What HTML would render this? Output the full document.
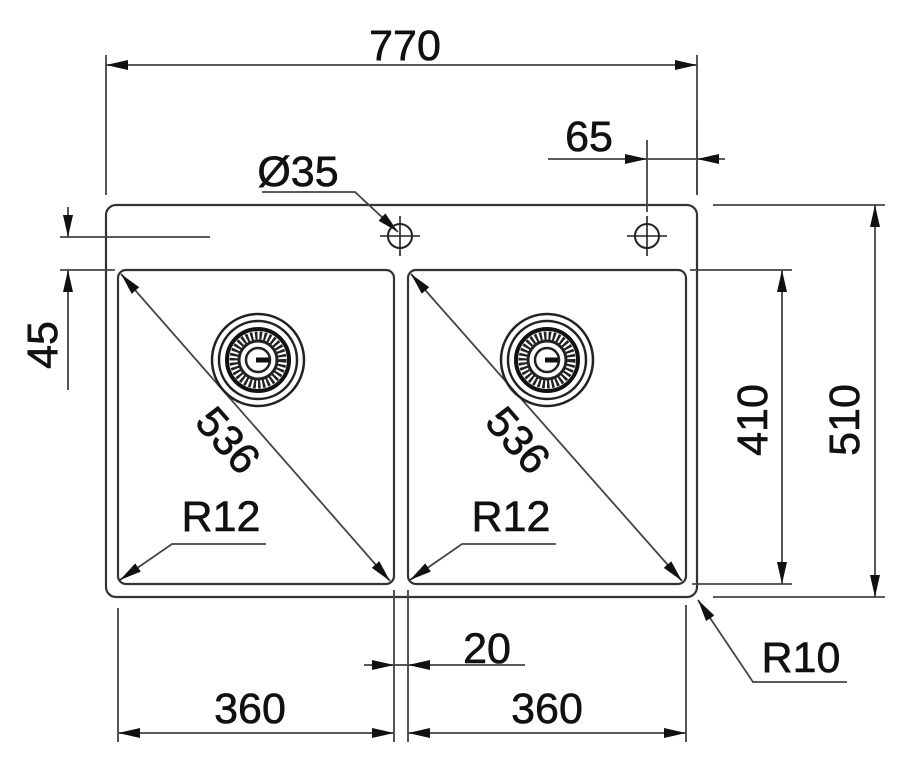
<!DOCTYPE html>
<html><head><style>
html,body{margin:0;padding:0;background:#fff;}
svg{display:block;}
text{font-family:"Liberation Sans",Arial,sans-serif;fill:#111;}
</style></head><body>
<svg width="910" height="769" viewBox="0 0 910 769" xmlns="http://www.w3.org/2000/svg">
<defs>
<marker id="a" viewBox="0 0 22 10" refX="22" refY="5" markerWidth="22" markerHeight="10" markerUnits="userSpaceOnUse" orient="auto-start-reverse"><path d="M0,0 L22,5 L0,10 Z" fill="#111"/></marker>
<g id="drain">
<circle r="46" fill="none" stroke="#222" stroke-width="2.5"/>
<circle r="39" fill="none" stroke="#222" stroke-width="2.5"/>
<circle r="31" fill="none" stroke="#111" stroke-width="4"/>
<circle r="24" fill="none" stroke="#222" stroke-width="9" stroke-dasharray="2.4 2"/>
<circle r="19" fill="none" stroke="#222" stroke-width="3"/>
<circle r="12" fill="#fff" stroke="#222" stroke-width="2.5"/>
<rect x="-2" y="-2.5" width="13" height="5" fill="#111"/>
</g>
<g id="tap">
<circle r="12" fill="none" stroke="#222" stroke-width="2"/>
<line x1="-20" y1="0" x2="20" y2="0" stroke="#222" stroke-width="1.6"/>
<line x1="0" y1="-20" x2="0" y2="20" stroke="#222" stroke-width="1.6"/>
</g>
</defs>
<g fill="none" stroke="#333" stroke-width="2.2">
<rect x="106" y="205" width="591" height="392" rx="10"/>
<rect x="118" y="270" width="276" height="314" rx="8"/>
<rect x="408" y="270" width="278" height="314" rx="8"/>
</g>
<g stroke="#444" stroke-width="1.8" fill="none">
<line x1="106" y1="55" x2="106" y2="195"/>
<line x1="697" y1="55" x2="697" y2="195"/>
<line x1="106" y1="65" x2="697" y2="65" marker-start="url(#a)" marker-end="url(#a)"/>
<line x1="548" y1="159" x2="647" y2="159" marker-end="url(#a)"/>
<line x1="725" y1="159" x2="697" y2="159" marker-end="url(#a)"/>
<line x1="647" y1="159" x2="697" y2="159"/>
<line x1="647" y1="140" x2="647" y2="212"/>
<line x1="697" y1="120" x2="697" y2="195"/>
<polyline points="262,192 355,192 398,232" marker-end="url(#a)"/>
<line x1="60" y1="237" x2="210" y2="237"/>
<line x1="60" y1="270" x2="115" y2="270"/>
<line x1="68" y1="207" x2="68" y2="237" marker-end="url(#a)"/>
<line x1="68" y1="390" x2="68" y2="270" marker-end="url(#a)"/>
<line x1="121" y1="274" x2="390" y2="581" marker-start="url(#a)" marker-end="url(#a)"/>
<line x1="411" y1="274" x2="682" y2="581" marker-start="url(#a)" marker-end="url(#a)"/>
<polyline points="266,544 172,544 120,580" marker-end="url(#a)"/>
<polyline points="556,544 462,544 410,580" marker-end="url(#a)"/>
<line x1="690" y1="270" x2="792" y2="270"/>
<line x1="692" y1="584" x2="792" y2="584"/>
<line x1="782" y1="270" x2="782" y2="584" marker-start="url(#a)" marker-end="url(#a)"/>
<line x1="713" y1="205" x2="885" y2="205"/>
<line x1="713" y1="597" x2="885" y2="597"/>
<line x1="875" y1="205" x2="875" y2="597" marker-start="url(#a)" marker-end="url(#a)"/>
<polyline points="847,682 753,682 698,600" marker-end="url(#a)"/>
<line x1="394" y1="590" x2="394" y2="742"/>
<line x1="408" y1="590" x2="408" y2="742"/>
<line x1="118" y1="608" x2="118" y2="742"/>
<line x1="686" y1="605" x2="686" y2="742"/>
<line x1="364" y1="665" x2="394" y2="665" marker-end="url(#a)"/>
<line x1="525" y1="665" x2="408" y2="665" marker-end="url(#a)"/>
<line x1="394" y1="665" x2="408" y2="665"/>
<line x1="118" y1="733" x2="394" y2="733" marker-start="url(#a)" marker-end="url(#a)"/>
<line x1="408" y1="733" x2="686" y2="733" marker-start="url(#a)" marker-end="url(#a)"/>
</g>
<use href="#drain" x="258" y="360"/>
<use href="#drain" x="547" y="360"/>
<use href="#tap" x="400" y="236"/>
<use href="#tap" x="647" y="236"/>
<g font-size="43" stroke="#111" stroke-width="0.6">
<text x="405" y="60" text-anchor="middle">770</text>
<text x="589" y="151" text-anchor="middle">65</text>
<text x="298" y="186" text-anchor="middle">Ø35</text>
<text transform="translate(57,345) rotate(-90)" text-anchor="middle">45</text>
<text transform="translate(217,450) rotate(48.8)" text-anchor="middle">536</text>
<text transform="translate(507,450) rotate(48.8)" text-anchor="middle">536</text>
<text x="221" y="531" text-anchor="middle">R12</text>
<text x="511" y="531" text-anchor="middle">R12</text>
<text transform="translate(767,420) rotate(-90)" text-anchor="middle">410</text>
<text transform="translate(859,420) rotate(-90)" text-anchor="middle">510</text>
<text x="801" y="672" text-anchor="middle">R10</text>
<text x="487" y="663" text-anchor="middle">20</text>
<text x="250" y="723" text-anchor="middle">360</text>
<text x="547" y="723" text-anchor="middle">360</text>
</g>
</svg>
</body></html>
